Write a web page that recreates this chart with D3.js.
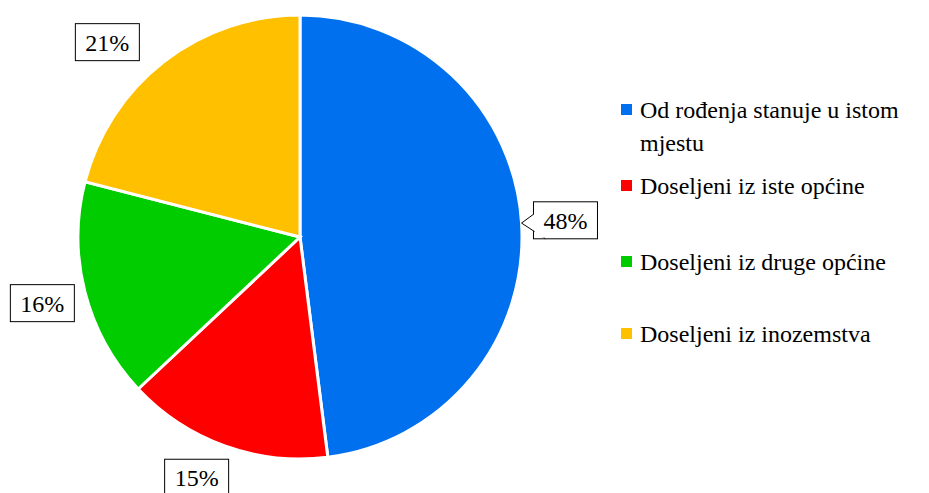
<!DOCTYPE html>
<html><head><meta charset="utf-8">
<script src="https://cdn.jsdelivr.net/npm/d3@7"></script>
<style>
body{margin:0;background:#fff;}
.lbl{font-family:"Liberation Serif";}
</style></head>
<body><div id="wrap"><svg id="chart" width="929" height="493"></svg></div>
<script>
const categories = ['Od rođenja stanuje u istom mjestu', 'Doseljeni iz iste općine', 'Doseljeni iz druge općine', 'Doseljeni iz inozemstva'];
const values = [48, 15, 16, 21];
const colors = ['#0070ef', '#ff0000', '#00cc00', '#ffc000'];
const legendLines = [['Od rođenja stanuje u istom', 'mjestu'], ['Doseljeni iz iste općine'], ['Doseljeni iz druge općine'], ['Doseljeni iz inozemstva']];

const svg = d3.select('#chart');
const cx = 300, cy = 237, r = 222;
const g = svg.append('g').attr('transform', `translate(${cx},${cy})`);

const arcs = d3.pie().sort(null).value((d) => d)(values);
const arc = d3.arc().innerRadius(0).outerRadius(r);

g.selectAll('path').data(arcs).join('path')
  .attr('d', arc)
  .attr('fill', (d, i) => colors[i])
  .attr('stroke', '#fff').attr('stroke-width', 3);

// label boxes: radius and angle nudge per slice (layout only)
const labelR = [266, 262, 266, 274];
const labelNudge = [0, 0.06, 0, -0.12];
const total = d3.sum(values);
arcs.forEach((d, i) => {
  const a = (d.startAngle + d.endAngle) / 2 + labelNudge[i];
  const x = labelR[i] * Math.sin(a), y = -labelR[i] * Math.cos(a);
  const txt = Math.round(d.value / total * 100) + '%';
  const w = 64, h = 37;
  g.append('rect').attr('x', x - w / 2).attr('y', y - h / 2).attr('width', w).attr('height', h)
    .attr('fill', '#fff').attr('stroke', '#000').attr('stroke-width', 1);
  if (i === 0) {
    const ma = (d.startAngle + d.endAngle) / 2;
    const ex = r * Math.sin(ma), ey = -r * Math.cos(ma);
    g.append('path').attr('d', `M${x - w / 2},${y - 6} L${ex},${ey} L${x - w / 2 + 12},${y + h / 2}`)
      .attr('fill', '#fff').attr('stroke', '#000').attr('stroke-width', 1);
    g.append('path').attr('d', `M${x - w / 2 + 1},${y - 5} L${x - w / 2 + 1},${y + h / 2 - 1} L${x - w / 2 + 11},${y + h / 2 - 1}`)
      .attr('fill', '#fff').attr('stroke', 'none');
  }
  g.append('text').attr('class', 'lbl')
    .attr('x', x).attr('y', y).attr('dy', '0.35em').attr('text-anchor', 'middle')
    .style('font', '24px "Liberation Serif"').text(txt);
});

const legendY = [110, 186, 262, 334];
const leg = svg.append('g');
categories.forEach((c, i) => {
  leg.append('rect').attr('x', 621).attr('y', legendY[i] - 6).attr('width', 11).attr('height', 11).attr('fill', colors[i]);
  legendLines[i].forEach((line, j) => {
    leg.append('text').attr('class', 'lbl')
      .attr('x', 640).attr('y', legendY[i] + j * 33).attr('dy', '0.35em')
      .style('font', '24px "Liberation Serif"').text(line);
  });
});

// re-parse the markup as static SVG so the serif face is applied
const wrap = document.getElementById('wrap');
wrap.innerHTML = wrap.innerHTML;
</script></body></html>
